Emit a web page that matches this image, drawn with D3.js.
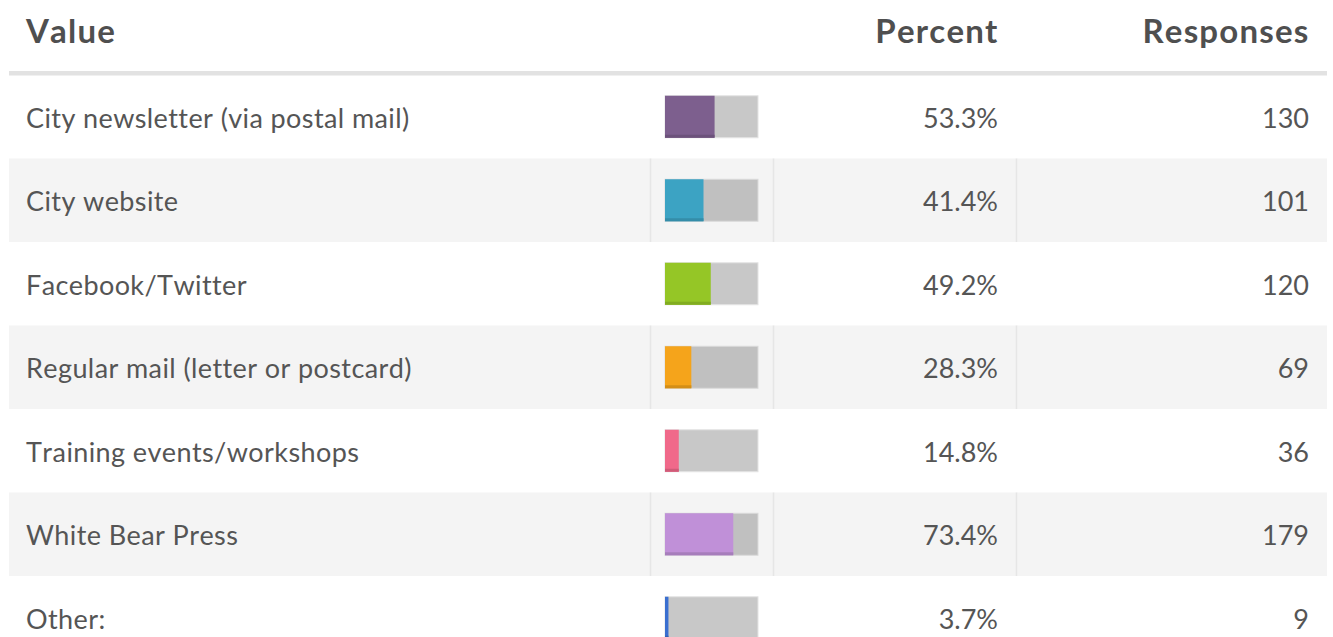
<!DOCTYPE html>
<html>
<head>
<meta charset="utf-8">
<script src="https://cdn.jsdelivr.net/npm/d3@7"></script>
<style>
  body { margin: 0; background: #fff; }
  text { font-family: Lato, "Open Sans", sans-serif; fill: #555; font-kerning: none; }
</style>
</head>
<body>
<div id="chart"></div>
<script>
// survey answers
const labels = ["City newsletter (via postal mail)", "City website", "Facebook/Twitter",
  "Regular mail (letter or postcard)", "Training events/workshops", "White Bear Press", "Other:"];
const percents = [53.3, 41.4, 49.2, 28.3, 14.8, 73.4, 3.7];
const responses = [130, 101, 120, 69, 36, 179, 9];
const barColors = ["#7d5f8e", "#3ca3c3", "#95c626", "#f5a41b", "#f0698a", "#c090d8", "#3a6fd0"];
const headers = ["Value", "Percent", "Responses"];

const width = 1333, height = 637;
const left = 9, right = 1327;
const rowTop = 75, rowH = 83.5;

const rows = labels.map((d, i) => ({label: d, pct: percents[i], n: responses[i], color: barColors[i]}));

const svg = d3.select("#chart").append("svg")
    .attr("width", width)
    .attr("height", height);

const y = d3.scaleBand()
    .domain(d3.range(rows.length))
    .range([rowTop, rowTop + rowH * rows.length])
    .padding(0);

const x = d3.scaleLinear()
    .domain([0, 100])
    .range([665, 758]);

// header
svg.append("rect")
    .attr("x", left).attr("y", 71)
    .attr("width", right - left).attr("height", 4.5)
    .attr("fill", "#e2e2e2");

const headX = [26, 998.5, 1309.5];
svg.selectAll("text.head")
    .data(headers)
  .enter().append("text")
    .attr("class", "head")
    .attr("x", (d, i) => headX[i]).attr("y", 43)
    .attr("text-anchor", (d, i) => i == 0 ? "start" : "end")
    .style("font-size", "33px").style("font-weight", "bold")
    .style("letter-spacing", "1.2px").style("fill", "#4f4f4f")
    .text(d => d);

const row = svg.selectAll("g.row")
    .data(rows)
  .enter().append("g")
    .attr("class", "row")
    .attr("transform", (d, i) => "translate(0," + y(i) + ")");

// striped backgrounds
row.filter((d, i) => i % 2 == 1).each(function() {
    const g = d3.select(this);
    g.append("rect")
        .attr("x", left).attr("y", 0)
        .attr("width", right - left).attr("height", y.bandwidth())
        .attr("fill", "#f4f4f4");
    [650.5, 773.5, 1016.5].forEach(cx => {
        g.append("line")
            .attr("x1", cx).attr("x2", cx)
            .attr("y1", 0).attr("y2", y.bandwidth())
            .attr("stroke", "#e6e6e6").attr("stroke-width", 1.5);
    });
});

const barH = 42;
const by = (y.bandwidth() - barH) / 2;

row.append("rect")
    .attr("x", x(0)).attr("y", by)
    .attr("width", x(100) - x(0)).attr("height", barH)
    .attr("fill", (d, i) => i % 2 == 1 ? "#c0c0c0" : "#c8c8c8")
    .attr("stroke", (d, i) => i % 2 == 1 ? "#dadada" : "#e4e4e4")
    .attr("stroke-width", 1);

row.append("rect")
    .attr("x", x(0)).attr("y", by)
    .attr("width", d => Math.max(2, x(d.pct) - x(0))).attr("height", barH)
    .attr("fill", d => d.color);

// darker strip along bar bottom
row.append("rect")
    .attr("x", x(0)).attr("y", by + barH - 3)
    .attr("width", d => Math.max(2, x(d.pct) - x(0))).attr("height", 3)
    .attr("fill", d => d3.color(d.color).darker(0.4));

row.append("text")
    .attr("x", 26).attr("y", y.bandwidth() / 2 + 11)
    .style("font-size", "27px")
    .style("letter-spacing", "0.4px")
    .text(d => d.label);

row.append("text")
    .attr("x", 998).attr("y", y.bandwidth() / 2 + 11)
    .attr("text-anchor", "end")
    .style("font-size", "27px")
    .text(d => d.pct.toFixed(1) + "%");

row.append("text")
    .attr("x", 1309).attr("y", y.bandwidth() / 2 + 11)
    .attr("text-anchor", "end")
    .style("font-size", "27px")
    .text(d => d.n);
</script>
</body>
</html>
